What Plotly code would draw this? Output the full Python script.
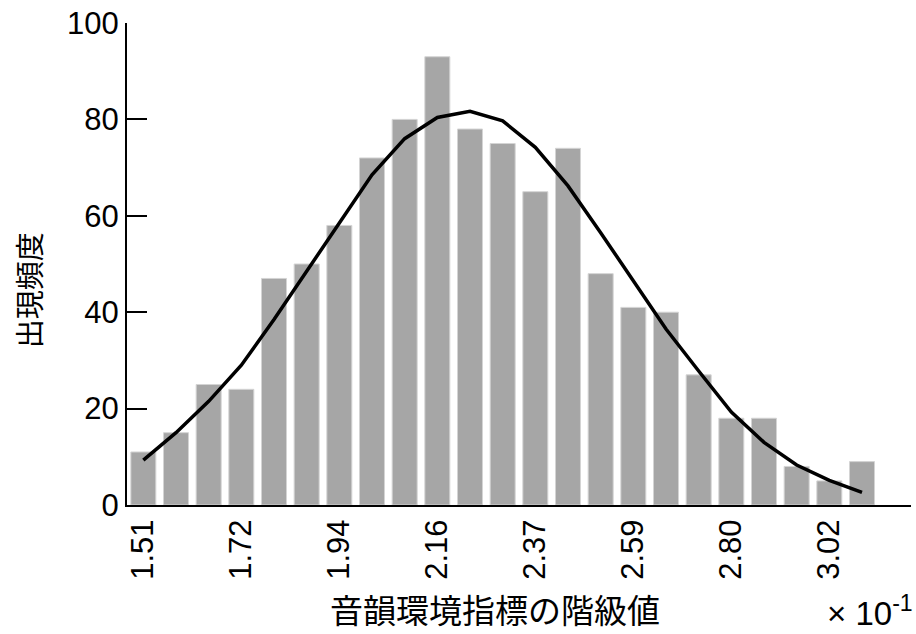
import plotly.graph_objects as go

# observed frequency per class (23 classes)
frequencies = [11, 15, 25, 24, 47, 50, 58, 72, 80, 93, 78, 75, 65, 74,
               48, 41, 40, 27, 18, 18, 8, 5, 9]
# fitted normal curve values at each class
fitted = [9.3, 15, 21.5, 29, 38.5, 48.5, 58.5, 68.5, 76, 80.4, 81.7, 79.7,
          74.2, 66.2, 56.5, 46.5, 36.5, 27.8, 19.3, 13, 8.3, 5.1, 2.6]
# class labels shown every third class (x 10^-1)
tick_labels = ["1.51", "1.72", "1.94", "2.16", "2.37", "2.59", "2.80", "3.02"]
y_ticks = [0, 20, 40, 60, 80, 100]

x_idx = list(range(len(frequencies)))
tick_step = 3
tick_pos = [i * tick_step for i in range(len(tick_labels))]

FONT = "Liberation Sans, Arial, Noto Sans CJK JP"
JP = "Noto Sans CJK JP"

fig = go.Figure()
fig.add_trace(go.Bar(
    x=x_idx, y=frequencies,
    marker=dict(color="#a6a6a6", line=dict(color="#d4d4d4", width=1)),
    hoverinfo="y",
))
fig.add_trace(go.Scatter(
    x=x_idx, y=fitted, mode="lines",
    line=dict(color="black", width=3.5),
))

fig.update_layout(
    width=916, height=634,
    margin=dict(l=127, r=5, t=23, b=129),
    paper_bgcolor="white", plot_bgcolor="white",
    showlegend=False,
    bargap=0.235,
    font=dict(family=FONT, color="black", size=30),
)
fig.update_xaxes(
    range=[-0.5, 23.5],
    tickmode="array", tickvals=tick_pos, ticktext=tick_labels,
    tickangle=-90, ticks="", ticklabelstandoff=0,
    showline=True, linecolor="black", linewidth=2,
    showgrid=False, zeroline=False,
    tickfont=dict(size=31, family=FONT),
)
fig.update_yaxes(
    range=[0, 100],
    tickmode="array", tickvals=y_ticks,
    ticks="inside", ticklen=20, tickwidth=2, tickcolor="black",
    showline=True, linecolor="black", linewidth=2,
    showgrid=False, zeroline=False,
    tickfont=dict(size=31, family=FONT),
)

fig.add_annotation(
    text="音韻環境指標の階級値", xref="paper", yref="paper",
    x=0.469, y=-0.216, xanchor="center", yanchor="middle",
    showarrow=False, font=dict(family=JP, size=33, color="black"),
)
fig.add_annotation(
    text="出現頻度", xref="paper", yref="paper",
    x=-0.126, y=0.446, xanchor="center", yanchor="middle", textangle=-90,
    showarrow=False, font=dict(family=JP, size=29, color="black"),
)
fig.add_annotation(
    text="× 10<sup>-1</sup>", xref="paper", yref="paper",
    x=0.948, y=-0.22, xanchor="center", yanchor="middle",
    showarrow=False, font=dict(family=FONT, size=33, color="black"),
)

fig.write_html("out.html", config={"displayModeBar": False},
               post_script="document.body.style.margin='0';document.body.style.overflow='hidden';")
